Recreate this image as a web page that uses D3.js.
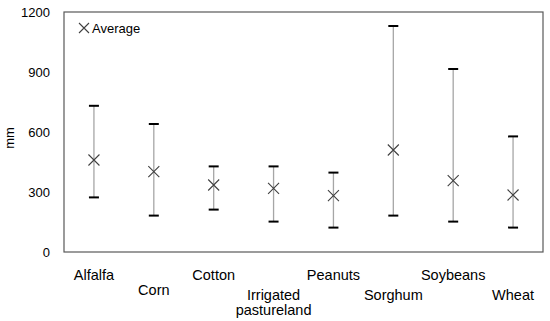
<!DOCTYPE html>
<html><head><meta charset="utf-8">
<script src="https://cdn.jsdelivr.net/npm/d3@7"></script>
<style>body{margin:0;background:#fff}</style>
</head><body>
<svg id="c" width="550" height="321"></svg>
<script>
const categories = ["Alfalfa","Corn","Cotton","Irrigated pastureland","Peanuts","Sorghum","Soybeans","Wheat"];
const maxValues = [731, 640, 428, 428, 397, 1130, 915, 578];
const minValues = [273, 182, 212, 152, 122, 182, 152, 122];
const avgValues = [460, 402, 335, 318, 282, 510, 357, 285];
const yTicks = [0, 300, 600, 900, 1200];
const labelRows = [0, 0.75, 0, 1, 0, 1, 0, 1];

const svg = d3.select("#c");
const L = 64, R = 543, T = 12, B = 252;
const x = d3.scaleBand().domain(categories).range([L, R]);
const y = d3.scaleLinear().domain([0, 1200]).range([B, T]);

// frame
svg.append("rect").attr("x", L).attr("y", T).attr("width", R - L).attr("height", B - T)
  .attr("fill", "none").attr("stroke", "#595959").attr("stroke-width", 1.2);

// y axis labels
const yAxis = d3.axisLeft(y).tickValues(yTicks).tickFormat(d3.format("d")).tickSize(0).tickPadding(14);
const ga = svg.append("g").attr("transform", `translate(${L},0)`).call(yAxis);
ga.select(".domain").remove();
ga.selectAll("text").attr("font-family", "Liberation Sans, Arial, sans-serif").attr("font-size", 13).attr("fill", "#000");

svg.append("text").attr("transform", `translate(14,${(T + B) / 2 + 6}) rotate(-90)`)
  .attr("text-anchor", "middle").attr("font-family", "Liberation Sans, Arial, sans-serif")
  .attr("font-size", 13).text("mm");

const data = categories.map((c, i) => ({c, mx: maxValues[i], mn: minValues[i], av: avgValues[i], row: labelRows[i]}));
const cx = d => x(d.c) + x.bandwidth() / 2;

const g = svg.append("g");
g.selectAll("line.bar").data(data).join("line")
  .attr("x1", cx).attr("x2", cx).attr("y1", d => y(d.mx)).attr("y2", d => y(d.mn))
  .attr("stroke", "#a6a6a6").attr("stroke-width", 1.3);
["mx", "mn"].forEach(k => {
  g.selectAll("line.cap" + k).data(data).join("line")
    .attr("x1", d => cx(d) - 5).attr("x2", d => cx(d) + 5)
    .attr("y1", d => y(d[k])).attr("y2", d => y(d[k]))
    .attr("stroke", "#000").attr("stroke-width", 2);
});
const s = 5.5;
g.selectAll("path.avg").data(data).join("path")
  .attr("d", d => { const X = cx(d), Y = y(d.av); return `M${X - s},${Y - s}L${X + s},${Y + s}M${X - s},${Y + s}L${X + s},${Y - s}`; })
  .attr("stroke", "#404040").attr("stroke-width", 1.1).attr("fill", "none");

// category labels
const lab = svg.append("g").attr("font-family", "Liberation Sans, Arial, sans-serif").attr("font-size", 14.5).attr("text-anchor", "middle");
data.forEach(d => {
  const words = d.c === "Irrigated pastureland" ? ["Irrigated", "pastureland"] : [d.c];
  const base = 280 + d.row * 19.5;
  words.forEach((w, j) => {
    lab.append("text").attr("x", cx(d)).attr("y", base + j * 15).text(w);
  });
});

// legend
const lx = 84, ly = 28;
svg.append("path").attr("d", `M${lx - 5},${ly - 5}L${lx + 5},${ly + 5}M${lx - 5},${ly + 5}L${lx + 5},${ly - 5}`)
  .attr("stroke", "#404040").attr("stroke-width", 1.1);
svg.append("text").attr("x", 92).attr("y", ly + 5).attr("font-family", "Liberation Sans, Arial, sans-serif")
  .attr("font-size", 13).text("Average");
</script>
</body></html>
